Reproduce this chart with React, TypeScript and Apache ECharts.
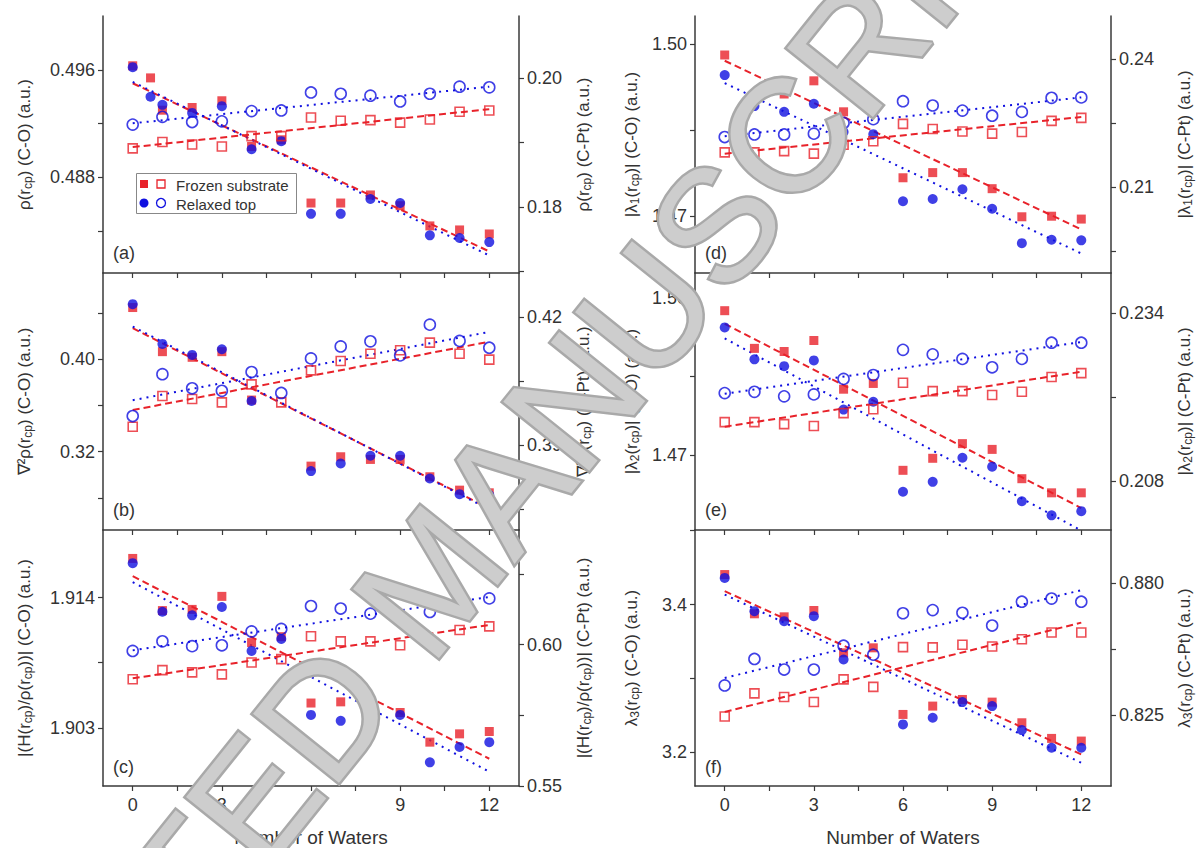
import React, { useEffect, useRef } from "react";
import * as echarts from "echarts";

// ---------- data ----------
const WATERS = [0, 1, 2, 3, 4, 5, 6, 7, 8, 9, 10, 11, 12];
const WATERS_A_CO = [0, 0.6, 1, 2, 3, 4, 5, 6, 7, 8, 9, 10, 11, 12];
const FIT_X = [0, 12];
const X_TICKS = [0, 1.5, 3, 4.5, 6, 7.5, 9, 10.5, 12];
const X_LABELS = [0, 3, 6, 9, 12];

// (a) rho
const aCOFrozen = [0.4963, 0.4954, 0.493, 0.4932, 0.4937, 0.4903, 0.4908, 0.4861, 0.4861, 0.4867, 0.4859, 0.4844, 0.4841, 0.4838];
const aCORelaxed = [0.4962, 0.494, 0.4934, 0.4928, 0.4933, 0.4901, 0.4907, 0.4853, 0.4853, 0.4864, 0.4861, 0.4837, 0.4835, 0.4832];
const aCPtFrozen = [0.1891, 0.1901, 0.1897, 0.1894, 0.191, 0.191, 0.1939, 0.1934, 0.1935, 0.1931, 0.1936, 0.1948, 0.195];
const aCPtRelaxed = [0.1928, 0.194, 0.1932, 0.1933, 0.1949, 0.195, 0.1978, 0.1976, 0.1973, 0.1964, 0.1976, 0.1987, 0.1986];
const aFitCOFrozen = [0.495, 0.4825];
const aFitCORelaxed = [0.4951, 0.4822];
const aFitCPtFrozen = [0.1893, 0.1952];
const aFitCPtRelaxed = [0.193, 0.1987];

// (b) laplacian
const bCOFrozen = [0.4448, 0.4066, 0.4017, 0.4066, 0.3647, null, 0.3075, 0.3156, 0.3133, 0.3133, 0.2983, 0.2867, 0.2844];
const bCORelaxed = [0.4477, 0.4133, 0.4038, 0.4087, 0.3639, null, 0.3032, 0.3098, 0.3165, 0.3165, 0.2968, 0.2832, 0.2824];
const bCPtFrozen = [0.3943, 0.4015, 0.4008, 0.4, 0.4042, 0.4, 0.4075, 0.4097, 0.4114, 0.4122, 0.414, 0.4114, 0.41];
const bCPtRelaxed = [0.3968, 0.4066, 0.4033, 0.4027, 0.4071, 0.4022, 0.4103, 0.4131, 0.4143, 0.411, 0.4182, 0.4144, 0.4128];
const bFitCOFrozen = [0.4269, 0.2708];
const bFitCORelaxed = [0.4283, 0.27];
const bFitCPtFrozen = [0.3982, 0.4142];
const bFitCPtRelaxed = [0.4005, 0.4165];

// (c) |H/rho|
const cCOFrozen = [1.9173, 1.9129, 1.913, 1.9141, 1.9102, 1.9107, 1.9051, 1.9052, 1.9054, 1.9043, 1.9018, 1.9025, 1.9027];
const cCORelaxed = [1.9169, 1.9128, 1.9125, 1.9132, 1.9095, 1.9105, 1.9041, 1.9036, 1.9047, 1.9041, 1.9001, 1.9014, 1.9018];
const cCPtFrozen = [0.5878, 0.591, 0.5902, 0.5895, 0.5937, 0.5949, 0.603, 0.6012, 0.6012, 0.5998, 0.6007, 0.6052, 0.6065];
const cCPtRelaxed = [0.5978, 0.6012, 0.5995, 0.5998, 0.6047, 0.6056, 0.6137, 0.6128, 0.611, 0.6085, 0.6116, 0.616, 0.6164];
const cFitCOFrozen = [1.9158, 1.9004];
const cFitCORelaxed = [1.9153, 1.8993];
const cFitCPtFrozen = [0.5881, 0.607];
const cFitCPtRelaxed = [0.598, 0.6169];

// (d) |lambda1|
const dCOFrozen = [1.4981, 1.4911, 1.4913, 1.4936, 1.4882, 1.4881, 1.4767, 1.4776, 1.4776, 1.4748, 1.4699, 1.47, 1.4695];
const dCORelaxed = [1.4946, 1.4892, 1.4882, 1.4896, 1.4847, 1.4843, 1.4726, 1.473, 1.4747, 1.4713, 1.4653, 1.4659, 1.4658];
const dCPtFrozen = [0.2181, 0.2181, 0.2184, 0.2178, 0.2199, 0.2207, 0.2248, 0.2236, 0.223, 0.2225, 0.2229, 0.2255, 0.2262];
const dCPtRelaxed = [0.2217, 0.2223, 0.2223, 0.2225, 0.225, 0.2259, 0.2301, 0.2291, 0.2279, 0.2267, 0.2276, 0.2309, 0.231];
const dFitCOFrozen = [1.4971, 1.4677];
const dFitCORelaxed = [1.4932, 1.4635];
const dFitCPtFrozen = [0.2178, 0.2264];
const dFitCPtRelaxed = [0.2219, 0.231];

// (e) |lambda2|
const eCOFrozen = [1.4976, 1.4904, 1.4898, 1.4919, 1.4826, 1.4837, 1.4671, 1.4694, 1.4722, 1.4711, 1.4655, 1.4628, 1.4628];
const eCORelaxed = [1.4944, 1.4883, 1.487, 1.4881, 1.4787, 1.4802, 1.463, 1.4649, 1.4695, 1.4678, 1.4612, 1.4585, 1.4593];
const eCPtFrozen = [0.2171, 0.2171, 0.2168, 0.2165, 0.2185, 0.2191, 0.2232, 0.2219, 0.2219, 0.2213, 0.2218, 0.2241, 0.2247];
const eCPtRelaxed = [0.2216, 0.2218, 0.2211, 0.2214, 0.2238, 0.2244, 0.2283, 0.2276, 0.2269, 0.2256, 0.2269, 0.2294, 0.2294];
const eFitCOFrozen = [1.4951, 1.4599];
const eFitCORelaxed = [1.4923, 1.4556];
const eFitCPtFrozen = [0.2164, 0.2249];
const eFitCPtRelaxed = [0.2215, 0.2295];

// (f) lambda3
const fCOFrozen = [3.4406, 3.3874, 3.3833, 3.3919, 3.3345, 3.3413, 3.251, 3.2623, 3.2713, 3.2677, 3.2397, 3.2185, 3.2149];
const fCORelaxed = [3.4361, 3.391, 3.3774, 3.3842, 3.3255, null, 3.2375, 3.2465, 3.2677, 3.2623, 3.2298, 3.2059, 3.2059];
const fCPtFrozen = [0.8245, 0.8341, 0.8326, 0.8305, 0.8399, 0.8368, 0.8533, 0.8532, 0.8543, 0.8536, 0.8566, 0.8594, 0.8594];
const fCPtRelaxed = [0.8374, 0.8484, 0.844, 0.844, 0.8539, 0.8502, 0.8674, 0.8687, 0.8676, 0.8623, 0.8722, 0.8735, 0.8722];
const fFitCOFrozen = [3.4181, 3.1968];
const fFitCORelaxed = [3.4135, 3.1855];
const fFitCPtFrozen = [0.8264, 0.8635];
const fFitCPtRelaxed = [0.8405, 0.877];

// axis ranges / ticks
const aLeftRange = [0.4809, 0.5];
const aLeftTicks = [0.484, 0.488, 0.492, 0.496];
const aLeftLabels = [0.488, 0.496];
const aRightRange = [0.1697, 0.2097];
const aRightTicks = [0.17, 0.18, 0.19, 0.2];
const aRightLabels = [0.18, 0.2];

const bLeftRange = [0.2522, 0.4747];
const bLeftTicks = [0.28, 0.32, 0.36, 0.4, 0.44];
const bLeftLabels = [0.32, 0.4];
const bRightRange = [0.3701, 0.4303];
const bRightTicks = [0.375, 0.39, 0.405, 0.42];
const bRightLabels = [0.39, 0.42];

const cLeftRange = [1.8981, 1.9197];
const cLeftTicks = [1.903, 1.9085, 1.914];
const cLeftLabels = [1.903, 1.914];
const cRightRange = [0.55, 0.6406];
const cRightTicks = [0.55, 0.575, 0.6, 0.625];
const cRightLabels = [0.55, 0.6];

const dLeftRange = [1.4601, 1.5049];
const dLeftTicks = [1.47, 1.485, 1.5];
const dLeftLabels = [1.47, 1.5];
const dRightRange = [0.1898, 0.2501];
const dRightTicks = [0.195, 0.21, 0.225, 0.24];
const dRightLabels = [0.21, 0.24];

const eLeftRange = [1.4557, 1.5048];
const eLeftTicks = [1.47, 1.485, 1.5];
const eLeftLabels = [1.47, 1.5];
const eRightRange = [0.2004, 0.2402];
const eRightTicks = [0.208, 0.221, 0.234];
const eRightLabels = [0.208, 0.234];

const fLeftRange = [3.154, 3.501];
const fLeftTicks = [3.2, 3.3, 3.4, 3.5];
const fLeftLabels = [3.2, 3.4];
const fRightRange = [0.7956, 0.902];
const fRightTicks = [0.825, 0.8525, 0.88];
const fRightLabels = [0.825, 0.88];

const PANEL_TAGS = ["(a)", "(b)", "(c)", "(d)", "(e)", "(f)"];
const LEFT_NAMES = [
  "ρ(r{s|cp}) (C-O) (a.u.)",
  "∇²ρ(r{s|cp}) (C-O) (a.u.)",
  "|(H(r{s|cp})/ρ(r{s|cp}))| (C-O) (a.u.)",
  "|λ{s|1}(r{s|cp})| (C-O) (a.u.)",
  "|λ{s|2}(r{s|cp})| (C-O) (a.u.)",
  "λ{s|3}(r{s|cp}) (C-O) (a.u.)",
];
const RIGHT_NAMES = [
  "ρ(r{s|cp}) (C-Pt) (a.u.)",
  "∇²ρ(r{s|cp}) (C-Pt) (a.u.)",
  "|(H(r{s|cp})/ρ(r{s|cp}))| (C-Pt) (a.u.)",
  "|λ{s|1}(r{s|cp})| (C-Pt) (a.u.)",
  "|λ{s|2}(r{s|cp})| (C-Pt) (a.u.)",
  "λ{s|3}(r{s|cp}) (C-Pt) (a.u.)",
];
const X_NAME = "Number of Waters";
const LEGEND_NAMES = ["Frozen substrate", "Relaxed top"];
const WATERMARK = "ACCEPTED MANUSCRIPT";

// ---------- styling ----------
const RED = "#e8222a";
const BLUE = "#1010e0";
const AXIS = "#3a3a3a";
const TEXT = "#333";
const FONT = "Arial, 'Liberation Sans', Helvetica, sans-serif";
const TICK_FS = 18;

const PANELS = [
  { left: 103, top: 16, co: [aCOFrozen, aCORelaxed], coX: WATERS_A_CO, pt: [aCPtFrozen, aCPtRelaxed], fits: [aFitCOFrozen, aFitCORelaxed, aFitCPtFrozen, aFitCPtRelaxed], lr: aLeftRange, lt: aLeftTicks, ll: aLeftLabels, ld: 3, rr: aRightRange, rt: aRightTicks, rl: aRightLabels, rd: 2, bottom: false },
  { left: 103, top: 273, co: [bCOFrozen, bCORelaxed], coX: WATERS, pt: [bCPtFrozen, bCPtRelaxed], fits: [bFitCOFrozen, bFitCORelaxed, bFitCPtFrozen, bFitCPtRelaxed], lr: bLeftRange, lt: bLeftTicks, ll: bLeftLabels, ld: 2, rr: bRightRange, rt: bRightTicks, rl: bRightLabels, rd: 2, bottom: false },
  { left: 103, top: 530, co: [cCOFrozen, cCORelaxed], coX: WATERS, pt: [cCPtFrozen, cCPtRelaxed], fits: [cFitCOFrozen, cFitCORelaxed, cFitCPtFrozen, cFitCPtRelaxed], lr: cLeftRange, lt: cLeftTicks, ll: cLeftLabels, ld: 3, rr: cRightRange, rt: cRightTicks, rl: cRightLabels, rd: 2, bottom: true },
  { left: 695, top: 16, co: [dCOFrozen, dCORelaxed], coX: WATERS, pt: [dCPtFrozen, dCPtRelaxed], fits: [dFitCOFrozen, dFitCORelaxed, dFitCPtFrozen, dFitCPtRelaxed], lr: dLeftRange, lt: dLeftTicks, ll: dLeftLabels, ld: 2, rr: dRightRange, rt: dRightTicks, rl: dRightLabels, rd: 2, bottom: false },
  { left: 695, top: 273, co: [eCOFrozen, eCORelaxed], coX: WATERS, pt: [eCPtFrozen, eCPtRelaxed], fits: [eFitCOFrozen, eFitCORelaxed, eFitCPtFrozen, eFitCPtRelaxed], lr: eLeftRange, lt: eLeftTicks, ll: eLeftLabels, ld: 2, rr: eRightRange, rt: eRightTicks, rl: eRightLabels, rd: 3, bottom: false },
  { left: 695, top: 530, co: [fCOFrozen, fCORelaxed], coX: WATERS, pt: [fCPtFrozen, fCPtRelaxed], fits: [fFitCOFrozen, fFitCORelaxed, fFitCPtFrozen, fFitCPtRelaxed], lr: fLeftRange, lt: fLeftTicks, ll: fLeftLabels, ld: 1, rr: fRightRange, rt: fRightTicks, rl: fRightLabels, rd: 3, bottom: true },
];
const GRID_W = 416;
const GRID_H = 257;

const pairs = (xs: number[], ys: (number | null)[]) =>
  xs.map((x, i) => [x, ys[i]]).filter((p) => p[1] !== null);

const nameStyle = {
  fontSize: 17,
  color: TEXT,
  fontFamily: FONT,
  lineHeight: 20,
  rich: {
    s: { fontSize: 12, color: TEXT, fontFamily: FONT, lineHeight: 9, verticalAlign: "bottom" },
  },
};

function buildOption() {
  const grid: any[] = [];
  const xAxis: any[] = [];
  const yAxis: any[] = [];
  const series: any[] = [];
  PANELS.forEach((p, i) => {
    grid.push({ left: p.left, top: p.top, width: GRID_W, height: GRID_H, containLabel: false });
    xAxis.push({
      type: "value",
      gridIndex: i,
      min: -1,
      max: 13,
      axisLine: { show: true, onZero: false, lineStyle: { color: AXIS, width: 1.5 } },
      axisTick: { show: true, inside: false, length: 5, customValues: X_TICKS, lineStyle: { color: AXIS, width: 1.2 } },
      axisLabel: { show: p.bottom, customValues: X_LABELS, fontSize: TICK_FS, color: TEXT, fontFamily: FONT, margin: 10 },
      splitLine: { show: false },
      name: p.bottom ? X_NAME : "",
      nameLocation: "middle",
      nameGap: 42,
      nameTextStyle: { fontSize: 19, color: TEXT, fontFamily: FONT },
    });
    const mkY = (pos: string, r: number[], t: number[], l: number[], d: number, name: string, gap: number) => ({
      type: "value",
      gridIndex: i,
      position: pos,
      min: r[0],
      max: r[1],
      axisLine: { show: true, onZero: false, lineStyle: { color: AXIS, width: 1.5 } },
      axisTick: { show: true, inside: false, length: 5, customValues: t, lineStyle: { color: AXIS, width: 1.2 } },
      axisLabel: { show: true, customValues: l, fontSize: TICK_FS, color: TEXT, fontFamily: FONT, margin: 8, formatter: (v: number) => v.toFixed(d) },
      splitLine: { show: false },
      name,
      nameLocation: "middle",
      nameRotate: 90,
      nameGap: gap,
      nameTextStyle: nameStyle,
    });
    const leftGap = p.left < 300 ? 69 : 54;
    const rightGap = p.left < 300 ? 54 : 63;
    yAxis.push(mkY("left", p.lr, p.lt, p.ll, p.ld, LEFT_NAMES[i], leftGap));
    yAxis.push(mkY("right", p.rr, p.rt, p.rl, p.rd, RIGHT_NAMES[i], rightGap));
    const yl = 2 * i;
    const yr = 2 * i + 1;
    const fitStyles = [
      { c: RED, t: [7, 4], ax: yl },
      { c: BLUE, t: [2, 5], ax: yl },
      { c: RED, t: [7, 4], ax: yr },
      { c: BLUE, t: [2, 5], ax: yr },
    ];
    p.fits.forEach((f, k) => {
      series.push({
        type: "line",
        xAxisIndex: i,
        yAxisIndex: fitStyles[k].ax,
        data: pairs(FIT_X, f),
        symbol: "none",
        clip: false,
        silent: true,
        lineStyle: { color: fitStyles[k].c, width: 2, type: fitStyles[k].t },
        z: 3,
      });
    });
    series.push({ type: "scatter", xAxisIndex: i, yAxisIndex: yl, data: pairs(p.coX, p.co[0]), symbol: "rect", symbolSize: 9, itemStyle: { color: RED }, z: 4 });
    series.push({ type: "scatter", xAxisIndex: i, yAxisIndex: yl, data: pairs(p.coX, p.co[1]), symbol: "circle", symbolSize: 10, itemStyle: { color: BLUE }, z: 4 });
    series.push({ type: "scatter", xAxisIndex: i, yAxisIndex: yr, data: pairs(WATERS, p.pt[0]), symbol: "rect", symbolSize: 9, itemStyle: { color: "rgba(255,255,255,0)", borderColor: RED, borderWidth: 1.6 }, z: 4 });
    series.push({ type: "scatter", xAxisIndex: i, yAxisIndex: yr, data: pairs(WATERS, p.pt[1]), symbol: "circle", symbolSize: 11, itemStyle: { color: "rgba(255,255,255,0)", borderColor: BLUE, borderWidth: 1.6 }, z: 4 });
  });

  const graphic: any[] = [];
  PANELS.forEach((p, i) => {
    graphic.push({
      type: "text",
      x: p.left + 10,
      y: p.top + GRID_H - 20,
      style: { text: PANEL_TAGS[i], fontSize: 18, fill: TEXT, fontFamily: FONT, verticalAlign: "middle" },
      z: 10,
    });
  });
  // legend in panel (a)
  graphic.push({ type: "rect", shape: { x: 136.5, y: 173.5, width: 160, height: 40 }, style: { fill: "#fff", stroke: "#888", lineWidth: 1 }, z: 8 });
  graphic.push({ type: "rect", shape: { x: 140, y: 180, width: 8, height: 8 }, style: { fill: RED }, z: 9 });
  graphic.push({ type: "rect", shape: { x: 157, y: 180, width: 8, height: 8 }, style: { fill: "none", stroke: RED, lineWidth: 1.3 }, z: 9 });
  graphic.push({ type: "circle", shape: { cx: 144, cy: 203, r: 4.5 }, style: { fill: BLUE }, z: 9 });
  graphic.push({ type: "circle", shape: { cx: 161, cy: 203, r: 4.5 }, style: { fill: "none", stroke: BLUE, lineWidth: 1.3 }, z: 9 });
  graphic.push({ type: "text", x: 176, y: 185, style: { text: LEGEND_NAMES[0], fontSize: 15, fill: TEXT, fontFamily: FONT, verticalAlign: "middle" }, z: 9 });
  graphic.push({ type: "text", x: 176, y: 204, style: { text: LEGEND_NAMES[1], fontSize: 15, fill: TEXT, fontFamily: FONT, verticalAlign: "middle" }, z: 9 });
  // watermark
  graphic.push({
    type: "text",
    x: 432,
    y: 578,
    rotation: 0.895,
    style: {
      text: WATERMARK,
      fontSize: 160,
      fontFamily: FONT,
      fill: "#cdcdcd",
      stroke: "#a9a9a9",
      lineWidth: 5,
      align: "center",
      verticalAlign: "middle",
    },
    z: 100,
  });

  return { animation: false, backgroundColor: "#fff", grid, xAxis, yAxis, series, graphic };
}

export default function App() {
  const ref = useRef<HTMLDivElement>(null);
  useEffect(() => {
    if (!ref.current) return;
    const chart = echarts.init(ref.current, undefined, { renderer: "svg" });
    chart.setOption(buildOption() as any);
    return () => chart.dispose();
  }, []);
  return <div ref={ref} style={{ position: "fixed", left: 0, top: 0, width: 1198, height: 848, background: "#fff" }} />;
}
